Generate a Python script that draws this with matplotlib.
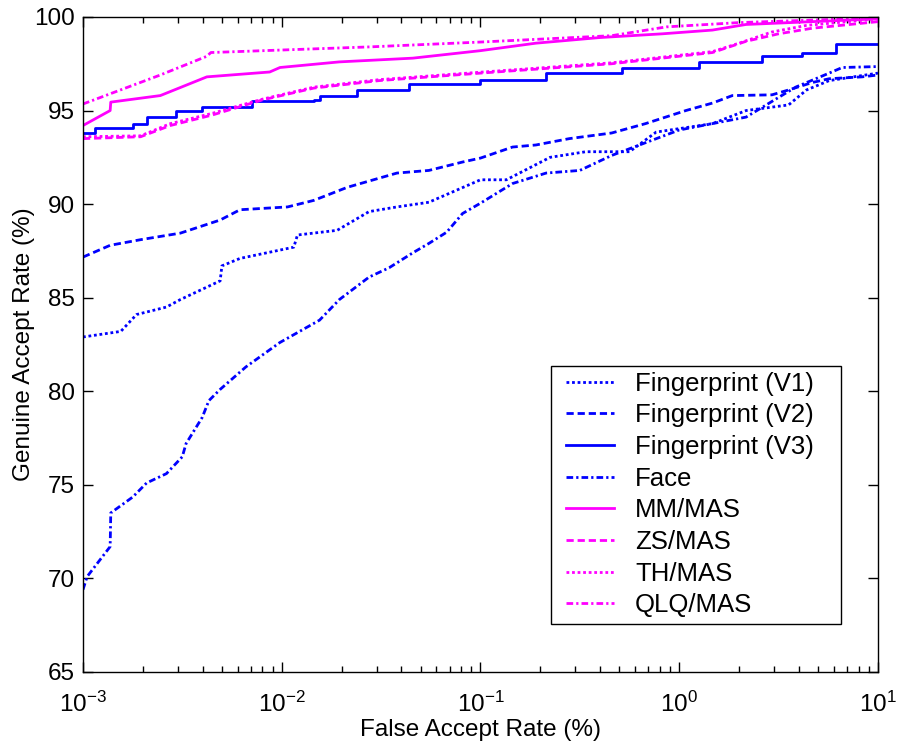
import matplotlib
matplotlib.use("Agg")
import matplotlib.pyplot as plt
import matplotlib.patches as mpatches
from matplotlib.ticker import LogLocator, FixedLocator

plt.rcParams['font.family'] = ['Liberation Sans', 'DejaVu Sans']
plt.rcParams['mathtext.fontset'] = 'custom'
plt.rcParams['mathtext.rm'] = 'Liberation Sans'

# ---- data (FAR in %, GAR in %) ----
fp_v1_far = [0.001, 0.00155, 0.00186, 0.00263, 0.00309, 0.0049, 0.0050, 0.00617, 0.0115, 0.0120,
             0.019, 0.0275, 0.038, 0.055, 0.1, 0.135, 0.224, 0.339, 0.562, 0.766, 1.47, 2.17, 3.55,
             4.37, 5.68, 10.0]
fp_v1_gar = [82.9, 83.2, 84.1, 84.5, 84.9, 85.9, 86.7, 87.1, 87.7, 88.35,
             88.6, 89.6, 89.85, 90.1, 91.3, 91.3, 92.5, 92.8, 92.8, 93.85, 94.3, 95.0, 95.3,
             96.1, 96.6, 97.0]

fp_v2_far = [0.001, 0.00137, 0.00195, 0.00309, 0.0049, 0.00617, 0.0107, 0.0145, 0.0214, 0.038,
             0.055, 0.0813, 0.1, 0.145, 0.19, 0.28, 0.457, 0.676, 1.08, 1.47, 1.85, 2.93, 3.55,
             4.68, 5.68, 8.32, 10.0]
fp_v2_gar = [87.17, 87.8, 88.1, 88.45, 89.15, 89.7, 89.85, 90.2, 90.9, 91.66,
             91.8, 92.25, 92.46, 93.05, 93.16, 93.5, 93.8, 94.3, 95.0, 95.4, 95.8, 95.84, 96.1,
             96.5, 96.7, 96.8, 96.9]

fp_v3_far = [0.001, 0.00115, 0.00178, 0.00209, 0.00295, 0.00398, 0.00708, 0.0145, 0.0155, 0.024,
             0.0407, 0.0437, 0.1, 0.214, 0.513, 1.26, 2.61, 4.17, 6.17, 10.0]
fp_v3_gar = [93.8, 94.07, 94.3, 94.65, 95.0, 95.2, 95.5, 95.56, 95.78, 96.1,
             96.1, 96.4, 96.65, 97.0, 97.3, 97.6, 97.9, 98.1, 98.55, 98.55]

face_far = [0.001, 0.00105, 0.00137, 0.00138, 0.00178, 0.00209, 0.00263, 0.00316, 0.00330, 0.00398,
            0.0043, 0.0049, 0.0066, 0.00977, 0.0155, 0.0195, 0.0275, 0.0347, 0.0457, 0.055,
            0.0676, 0.0813, 0.1, 0.145, 0.214, 0.316, 0.457, 1.0, 2.17, 3.16, 3.87, 5.68, 6.61, 10.0]
face_gar = [69.4, 70.1, 71.7, 73.5, 74.35, 75.1, 75.6, 76.5, 77.2, 78.6,
            79.5, 80.1, 81.3, 82.6, 83.8, 84.9, 86.1, 86.6, 87.4, 87.9,
            88.5, 89.5, 90.05, 91.1, 91.66, 91.8, 92.6, 93.96, 94.65, 95.7, 96.26, 97.0, 97.3, 97.35]

mm_far = [0.001, 0.00137, 0.00138, 0.00245, 0.0042, 0.0087, 0.0098, 0.0195, 0.0457, 0.1,
          0.19, 0.398, 0.822, 1.47, 2.17, 10.0]
mm_gar = [94.2, 95.0, 95.45, 95.8, 96.8, 97.06, 97.3, 97.6, 97.8, 98.2,
          98.6, 98.9, 99.1, 99.3, 99.6, 99.9]

zs_far = [0.001, 0.00195, 0.00275, 0.00447, 0.00794, 0.0145, 0.0309, 0.1, 0.457, 1.47, 2.17, 3.16,
          4.68, 10.0]
zs_gar = [93.5, 93.6, 94.2, 94.76, 95.56, 96.2, 96.6, 97.0, 97.5, 98.1, 98.7, 99.1,
          99.4, 99.75]

th_far = [0.001, 0.00195, 0.00275, 0.00447, 0.00794, 0.0145, 0.0309, 0.1, 0.457, 1.47, 2.0, 2.93,
          4.37, 10.0]
th_gar = [93.6, 93.65, 94.3, 94.85, 95.6, 96.25, 96.65, 97.05, 97.55, 98.15, 98.6, 99.2,
          99.55, 99.9]

qlq_far = [0.001, 0.00245, 0.0042, 0.0044, 0.0275, 0.1, 0.457, 0.861, 2.0, 10.0]
qlq_gar = [95.35, 96.9, 97.9, 98.1, 98.4, 98.66, 99.0, 99.47, 99.7, 99.95]

labels = ['Fingerprint (V1)', 'Fingerprint (V2)', 'Fingerprint (V3)', 'Face',
          'MM/MAS', 'ZS/MAS', 'TH/MAS', 'QLQ/MAS']
xtick_vals = [1e-3, 1e-2, 1e-1, 1e0, 1e1]
xtick_labels = [r'$\mathregular{10^{-3}}$', r'$\mathregular{10^{-2}}$', r'$\mathregular{10^{-1}}$',
                r'$\mathregular{10^{0}}$', r'$\mathregular{10^{1}}$']
ytick_vals = [65, 70, 75, 80, 85, 90, 95, 100]

blue = '#0000ff'
mag = '#ff00ff'
FS = 17.5
LFS = 18.5

fig = plt.figure(figsize=(8.98, 7.51), dpi=100)
ax = fig.add_axes([0.0924, 0.1052, 0.8853, 0.8722])

lw = 2.0
dot = (0, (1, 1))
dash = (0, (2.6, 1.4))
dashdot = (0, (2.4, 1.1, 0.8, 1.1))

ax.plot(fp_v1_far, fp_v1_gar, color=blue, lw=lw, ls=dot, label=labels[0])
ax.plot(fp_v2_far, fp_v2_gar, color=blue, lw=lw, ls=dash, label=labels[1])
ax.plot(fp_v3_far, fp_v3_gar, color=blue, lw=lw, ls='-', label=labels[2], drawstyle='steps-post')
ax.plot(face_far, face_gar, color=blue, lw=lw, ls=dashdot, label=labels[3])
ax.plot(mm_far, mm_gar, color=mag, lw=lw, ls='-', label=labels[4])
ax.plot(zs_far, zs_gar, color=mag, lw=lw, ls=dash, label=labels[5])
ax.plot(th_far, th_gar, color=mag, lw=lw, ls=dot, label=labels[6])
ax.plot(qlq_far, qlq_gar, color=mag, lw=lw, ls=dashdot, label=labels[7])

ax.set_xscale('log')
ax.set_xlim(1e-3, 1e1)
ax.set_ylim(65, 100)
ax.set_yticks(ytick_vals)
ax.xaxis.set_major_locator(FixedLocator(xtick_vals))
ax.xaxis.set_minor_locator(LogLocator(base=10, subs=range(2, 10)))
ax.set_xticklabels(xtick_labels)

ax.tick_params(which='both', direction='in', top=True, right=True, labelsize=FS, width=1)
ax.tick_params(which='major', length=7)
ax.tick_params(axis='x', which='major', pad=14)
ax.tick_params(axis='y', which='major', pad=6)
ax.tick_params(which='minor', length=4)
for s in ax.spines.values():
    s.set_linewidth(1)

ax.set_xlabel('False Accept Rate (%)', fontsize=FS, labelpad=2)
ax.set_ylabel('Genuine Accept Rate (%)', fontsize=FS)
ax.yaxis.set_label_coords(-0.060, 0.5)

# legend frame (MATLAB style box) drawn separately, legend entries placed inside
frame = mpatches.Rectangle((0.5887, 0.0733), 0.3648, 0.3939, transform=ax.transAxes,
                           facecolor='white', edgecolor='black', linewidth=1, zorder=4)
ax.add_patch(frame)
leg = ax.legend(loc='center left', bbox_to_anchor=(0.6075, 0.271), frameon=False,
                fontsize=LFS, handlelength=1.87, labelspacing=0.30, borderpad=0.0,
                handletextpad=0.82, borderaxespad=0)
leg.set_zorder(5)

fig.savefig('out.png', dpi=100)
